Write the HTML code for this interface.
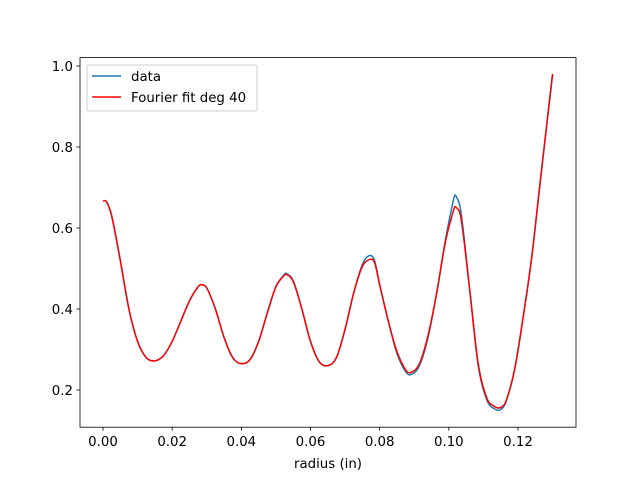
<!DOCTYPE html>
<html><head><meta charset="utf-8"><style>
body{margin:0;background:#fff}
text{font-family:"DejaVu Sans","Liberation Sans",sans-serif;font-size:13.33px;fill:#000}
</style></head><body>
<svg id="chart" width="640" height="480" xmlns="http://www.w3.org/2000/svg">
<rect width="640" height="480" fill="#fff"/>
<g id="marks"></g>
<g id="axes"></g>
<rect x="80" y="57.6" width="496" height="369.6" fill="none" stroke="#000" stroke-width="0.8"/>
<g>
<rect x="87" y="65" width="170" height="46" rx="2" fill="#fff" fill-opacity="0.8" stroke="#ccc" stroke-width="1"/>
<line x1="92" y1="76" x2="121" y2="76" stroke="#1f77b4" stroke-width="1.5"/>
<text x="131" y="81">data</text>
<line x1="92" y1="97" x2="121" y2="97" stroke="#ff0000" stroke-width="1.5"/>
<text x="131" y="102">Fourier fit deg 40</text>
</g>
<text x="328" y="468" text-anchor="middle">radius (in)</text>
</svg>
<script>
const xs=[0,.001,.0025,.005,.0075,.01,.0125,.015,.0175,.02,.0225,.025,.0275,.0285,.03,.0325,.035,.0375,.04,.0425,.045,.0475,.05,.0525,.053,.055,.0575,.06,.0625,.065,.0675,.07,.0725,.075,.077,.0785,.08,.0825,.085,.0875,.089,.0915,.094,.0965,.099,.1015,.102,.1035,.106,.1085,.111,.1135,.115,.1165,.119,.1215,.124,.1265,.13];
const dataVals=[.667,.665,.63,.52,.40,.32,.28,.272,.285,.32,.37,.42,.455,.46,.452,.40,.33,.28,.265,.275,.32,.39,.455,.486,.488,.47,.40,.32,.27,.26,.28,.35,.44,.51,.532,.52,.46,.37,.29,.245,.238,.26,.33,.44,.57,.675,.68,.64,.45,.26,.175,.152,.152,.17,.25,.38,.53,.72,.98];
const fitVals=[.667,.665,.63,.52,.40,.32,.28,.272,.285,.32,.37,.42,.455,.46,.452,.40,.33,.28,.265,.275,.32,.39,.455,.484,.486,.468,.40,.32,.27,.26,.28,.35,.44,.505,.522,.515,.46,.37,.295,.25,.243,.265,.335,.44,.565,.648,.652,.625,.45,.265,.18,.158,.157,.172,.25,.38,.53,.72,.98];
const xTicks=[0,0.02,0.04,0.06,0.08,0.10,0.12];
const xTickLabels=["0.00","0.02","0.04","0.06","0.08","0.10","0.12"];
const yTicks=[0.2,0.4,0.6,0.8,1.0];
const yTickLabels=["0.2","0.4","0.6","0.8","1.0"];
const X=v=>103+v*3458.3, Y=v=>66+(1-v)*405;
const NS="http://www.w3.org/2000/svg";
function path(vals){
  const n=xs.length, m=[];
  for(let i=0;i<n;i++){
    const a=Math.max(i-1,0), b=Math.min(i+1,n-1);
    m.push((vals[b]-vals[a])/(xs[b]-xs[a]));
  }
  let d="M"+X(xs[0])+","+Y(vals[0]);
  for(let i=0;i<n-1;i++){
    const h=xs[i+1]-xs[i];
    const c1x=xs[i]+h/3, c1y=vals[i]+m[i]*h/3;
    const c2x=xs[i+1]-h/3, c2y=vals[i+1]-m[i+1]*h/3;
    d+=`C${X(c1x)},${Y(c1y)} ${X(c2x)},${Y(c2y)} ${X(xs[i+1])},${Y(vals[i+1])}`;
  }
  return d;
}
const marks=document.getElementById('marks');
const l1=document.createElementNS(NS,'path');
l1.setAttribute('d',path(dataVals));l1.setAttribute('fill','none');l1.setAttribute('stroke','#1f77b4');l1.setAttribute('stroke-width','1.5');


marks.appendChild(l1);
const l2=document.createElementNS(NS,'path');
l2.setAttribute('d',path(fitVals));l2.setAttribute('fill','none');l2.setAttribute('stroke','#ff0000');l2.setAttribute('stroke-width','1.5');


marks.appendChild(l2);
const axes=document.getElementById('axes');
xTicks.forEach((t,i)=>{
  const x=X(t);
  const ln=document.createElementNS(NS,'line');
  ln.setAttribute('x1',x);ln.setAttribute('x2',x);ln.setAttribute('y1',427.2);ln.setAttribute('y2',430.7);ln.setAttribute('stroke','#000');ln.setAttribute('stroke-width','0.8');
  
  
  axes.appendChild(ln);
  const tx=document.createElementNS(NS,'text');
  tx.setAttribute('x',x);tx.setAttribute('y',446);tx.setAttribute('text-anchor','middle');tx.textContent=xTickLabels[i];
  
  
  axes.appendChild(tx);
});
yTicks.forEach((t,i)=>{
  const y=Y(t);
  const ln=document.createElementNS(NS,'line');
  ln.setAttribute('x1',76.5);ln.setAttribute('x2',80);ln.setAttribute('y1',y);ln.setAttribute('y2',y);ln.setAttribute('stroke','#000');ln.setAttribute('stroke-width','0.8');
  
  
  axes.appendChild(ln);
  const tx=document.createElementNS(NS,'text');
  tx.setAttribute('x',73);tx.setAttribute('y',y+5);tx.setAttribute('text-anchor','end');tx.textContent=yTickLabels[i];
  
  
  axes.appendChild(tx);
});
</script>
</body></html>
